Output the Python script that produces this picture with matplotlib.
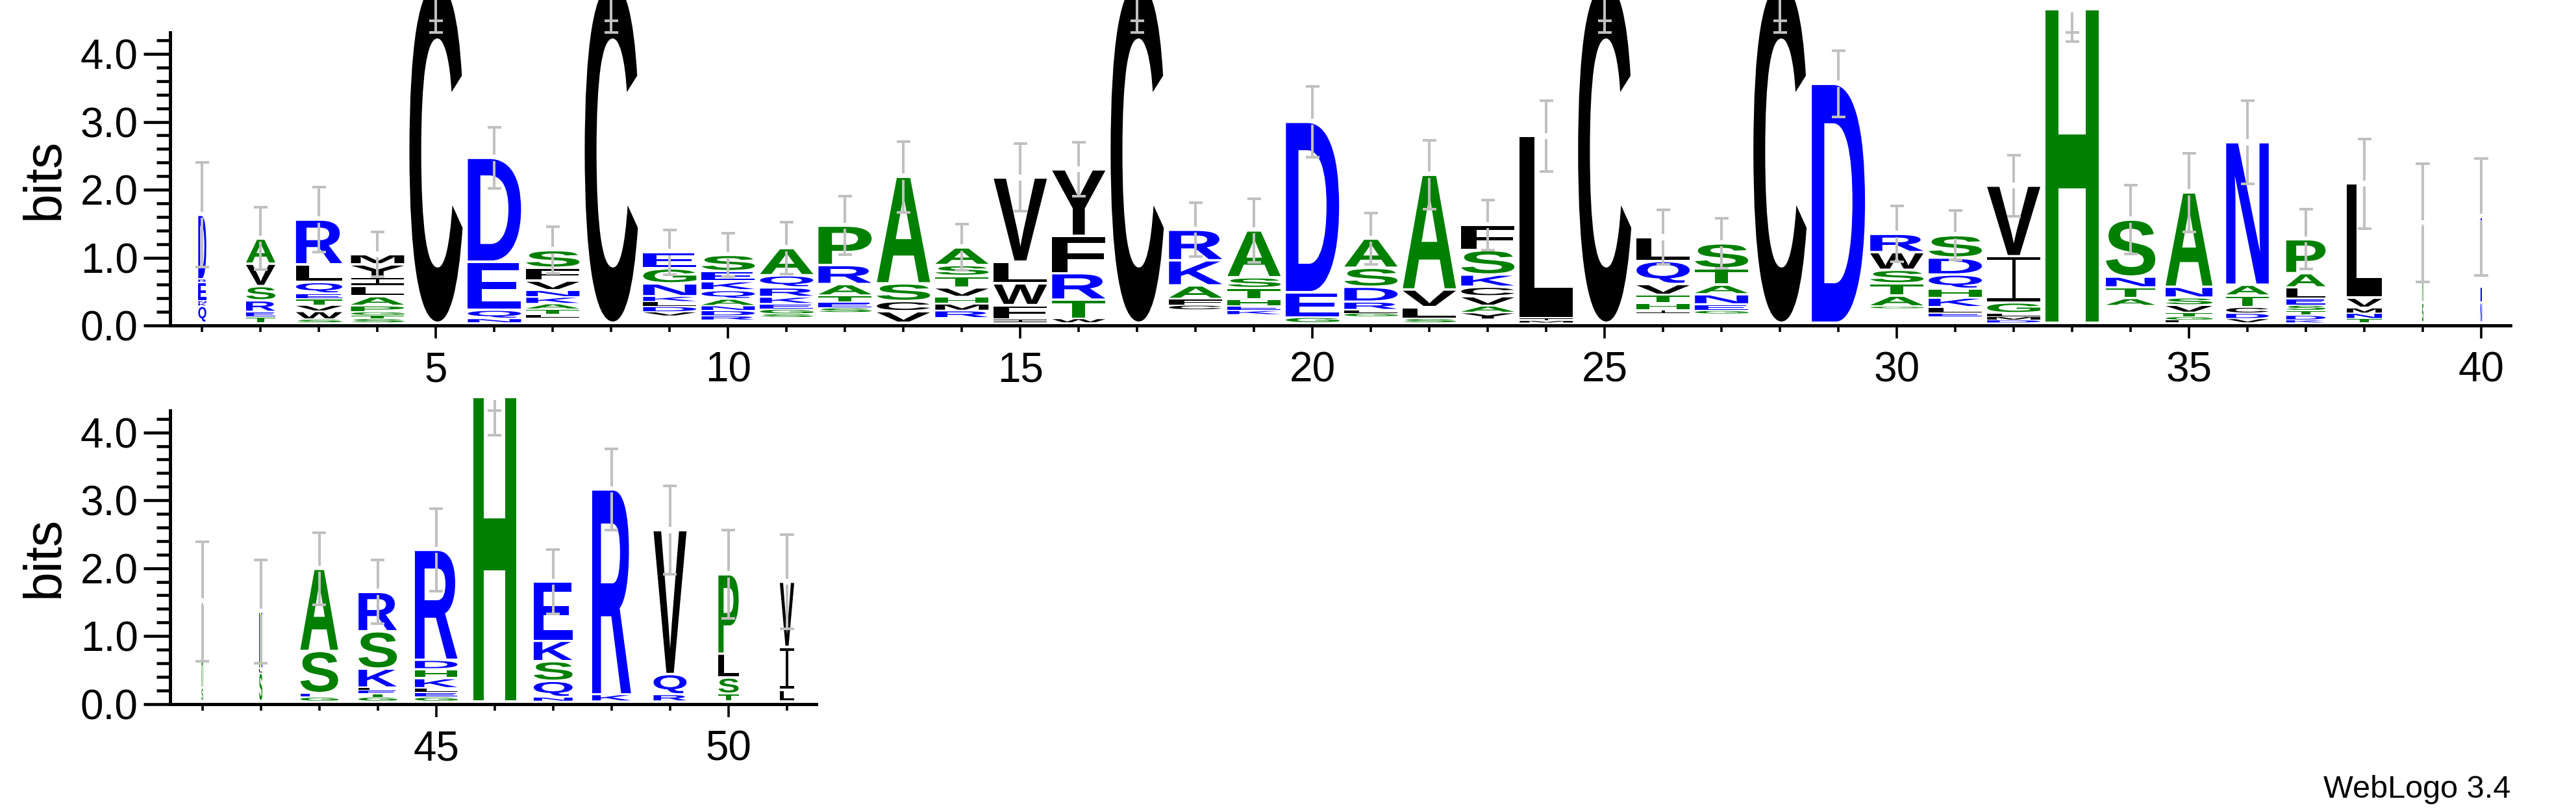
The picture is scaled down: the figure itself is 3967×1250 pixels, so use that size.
import numpy as np
import matplotlib
matplotlib.use("Agg")
from matplotlib import pyplot as plt
from matplotlib.textpath import TextPath
from matplotlib.font_manager import FontProperties
from matplotlib.patches import PathPatch, Rectangle
from matplotlib.transforms import Affine2D
from matplotlib.ticker import FixedLocator, MultipleLocator, FormatStrFormatter

plt.rcParams['font.family'] = ['Liberation Sans', 'DejaVu Sans']

# stacks, bottom -> top, heights in bits
letters = ["QKNERD", "TERSVA", "SWVTEQLR", "STGPALIYM", "C",
           "NQED", "LTAKNVFS", "C", "VDLKNGE", "RDNAQKES",
           "SGEKRQA", "SETARP", "VCSA", "RMHVTSA", "IFWLV",
           "WTRFY", "C", "CFAKR", "KEHTSA", "GED",
           "GLRDSA", "SLVA", "YAVCKSF", "MIL", "C",
           "IHTVQL", "GENATS", "C", "D", "GATSWR",
           "ELKHQDS", "DMLGIV", "H", "ATNS", "LGTVSNA",
           "VDCTAN", "KDTSELAP", "TNMVL", "SA", "NE",
           "SA", "SLK", "GESA", "GTELKSR", "GELKHDR",
           "H", "NQSKE", "KR", "RQV", "TSLP", "LIV"]

heights = [[0.25, 0.04, 0.03, 0.28, 0.04, 0.95],
           [0.09, 0.07, 0.17, 0.21, 0.33, 0.37],
           [0.05, 0.12, 0.09, 0.09, 0.08, 0.17, 0.26, 0.66],
           [0.06, 0.05, 0.05, 0.09, 0.14, 0.15, 0.14, 0.18, 0.15],
           [5.0],
           [0.06, 0.13, 0.71, 1.53],
           [0.05, 0.08, 0.08, 0.10, 0.10, 0.14, 0.19, 0.26],
           [5.0],
           [0.06, 0.08, 0.07, 0.08, 0.19, 0.22, 0.24],
           [0.06, 0.08, 0.07, 0.10, 0.13, 0.13, 0.15, 0.24],
           [0.05, 0.07, 0.08, 0.10, 0.14, 0.18, 0.40],
           [0.07, 0.08, 0.10, 0.17, 0.28, 0.58],
           [0.17, 0.15, 0.26, 1.57],
           [0.11, 0.10, 0.10, 0.14, 0.17, 0.16, 0.26],
           [0.05, 0.21, 0.32, 0.32, 1.24],
           [0.06, 0.28, 0.39, 0.55, 0.98],
           [5.0],
           [0.07, 0.09, 0.20, 0.37, 0.45],
           [0.06, 0.07, 0.09, 0.17, 0.16, 0.69],
           [0.08, 0.37, 2.51],
           [0.05, 0.05, 0.12, 0.22, 0.28, 0.43],
           [0.06, 0.17, 0.26, 1.69],
           [0.10, 0.10, 0.14, 0.14, 0.18, 0.36, 0.37],
           [0.03, 0.04, 2.68],
           [5.0],
           [0.05, 0.10, 0.12, 0.16, 0.34, 0.35],
           [0.05, 0.09, 0.15, 0.14, 0.24, 0.37],
           [5.0],
           [3.52],
           [0.03, 0.16, 0.18, 0.20, 0.26, 0.27],
           [0.05, 0.09, 0.14, 0.13, 0.21, 0.25, 0.33],
           [0.04, 0.05, 0.05, 0.16, 0.68, 1.04],
           [4.62],
           [0.11, 0.16, 0.16, 0.84],
           [0.04, 0.05, 0.06, 0.11, 0.11, 0.16, 1.39],
           [0.06, 0.08, 0.09, 0.17, 0.16, 2.10],
           [0.04, 0.07, 0.07, 0.08, 0.09, 0.17, 0.21, 0.50],
           [0.06, 0.08, 0.08, 0.15, 1.68],
           [0.30, 1.17],
           [0.30, 1.26],
           [0.20, 1.27],
           [0.42, 0.06, 0.84],
           [0.06, 0.06, 0.62, 1.21],
           [0.06, 0.05, 0.05, 0.04, 0.28, 0.55, 0.58],
           [0.06, 0.07, 0.06, 0.15, 0.13, 0.14, 1.62],
           [4.48],
           [0.06, 0.24, 0.29, 0.30, 0.87],
           [0.10, 3.02],
           [0.10, 0.30, 2.12],
           [0.11, 0.24, 0.35, 1.17],
           [0.17, 0.63, 0.96]]

# invisible tiny residues under the visible letters
base = [0, 0, 0, 0, 0, 0, 0.07, 0, 0.10, 0.04,
        0.08, 0.15, 0, 0.07, 0, 0, 0, 0.19, 0.12, 0,
        0.09, 0, 0.05, 0, 0, 0.14, 0.13, 0, 0, 0.21,
        0.09, 0, 0, 0.25, 0, 0, 0, 0, 0, 0,
        0, 0, 0, 0, 0, 0, 0, 0, 0, 0, 0]

# stack width (fraction of non-gap sequences)
widths = [0.15, 0.55, 0.87, 1, 1, 1, 1, 1, 1, 1,
          1, 1, 1, 1, 1, 1, 1, 1, 1, 1,
          1, 1, 1, 1, 1, 1, 1, 1, 1, 1,
          1, 1, 1, 0.93, 0.88, 0.80, 0.74, 0.66, 0.03, 0.03,
          0.03, 0.06, 0.71, 0.72, 0.80, 0.80, 0.73, 0.73, 0.62, 0.38, 0.27]

errs = [0.77, 0.46, 0.48, 0.33, 0.55, 0.45, 0.34, 0.55, 0.33, 0.32,
        0.38, 0.43, 0.52, 0.34, 0.50, 0.40, 0.55, 0.40, 0.47, 0.52,
        0.38, 0.51, 0.37, 0.52, 0.55, 0.40, 0.37, 0.55, 0.49, 0.41,
        0.36, 0.45, 0.48, 0.51, 0.58, 0.61, 0.44, 0.66, 0.87, 0.86,
        0.88, 0.76, 0.53, 0.47, 0.61, 0.56, 0.47, 0.60, 0.65, 0.65, 0.69]

GREEN = '#008000'
BLUE = '#0000ff'
BLACK = '#000000'
GREY = '#c0c0c0'
colour = {}
for c in 'AGSTPH':
    colour[c] = GREEN
for c in 'DENQRK':
    colour[c] = BLUE
for c in 'CVLIMFWY':
    colour[c] = BLACK

YMAX = 4.32
Y0 = 0.04
GAP = 0.045
CAP = 0.117

fp = FontProperties(family='Liberation Sans', weight='bold')
glyphs = {}


def draw_letter(ax, c, x, y, w, h):
    if h <= 0:
        return
    if c == 'I':
        t = min(0.04, h * 0.2)
        s = min(0.055, w)
        for r in [(x - w/2, y, w, t), (x - w/2, y + h - t, w, t), (x - s/2, y, s, h)]:
            ax.add_patch(Rectangle(r[:2], r[2], r[3], fc=colour[c], ec='none', clip_on=False))
        return
    if c not in glyphs:
        glyphs[c] = TextPath((0, 0), c, size=100, prop=fp)
    p = glyphs[c]
    bb = p.get_extents()
    tr = Affine2D().translate(-bb.x0, -bb.y0).scale(w/bb.width, h/bb.height).translate(x - w/2, y)
    ax.add_patch(PathPatch(tr.transform_path(p), fc=colour[c], ec='none', lw=0, clip_on=False))


def draw_errbar(ax, x, top, e):
    kw = dict(color=GREY, lw=2.9, solid_capstyle='butt', clip_on=False, zorder=5)
    lo = top - e
    if top > YMAX:
        ax.plot([x, x], [min(lo, YMAX), top - GAP], **kw)
        caps = [lo, YMAX]
    else:
        ax.plot([x, x], [lo, top - GAP], **kw)
        ax.plot([x, x], [top + GAP, top + e], **kw)
        caps = [lo, top + e]
    for cy in caps:
        ax.plot([x - CAP, x + CAP], [cy, cy], **kw)


def draw_row(ax, first, last):
    for i in range(first, last + 1):
        k = i - 1
        w = widths[k] * 0.91
        y = Y0 + base[k]
        for c, hh in zip(letters[k], heights[k]):
            pad = min(0.018, 0.12 * hh)
            draw_letter(ax, c, i, y + pad, w, hh - 2*pad)
            y += hh
        draw_errbar(ax, i, y, errs[k])


def setup(ax, lo, hi, majors):
    ax.set_xlim(lo - 0.55, hi + 0.5)
    ax.set_ylim(0, YMAX)
    ax.spines[['top', 'right']].set_visible(False)
    ax.spines[['left', 'bottom']].set_linewidth(3.6)
    ax.xaxis.set_major_locator(FixedLocator(majors))
    ax.xaxis.set_minor_locator(FixedLocator(list(range(lo, hi + 1))))
    ax.yaxis.set_major_locator(FixedLocator([0, 1, 2, 3, 4]))
    ax.yaxis.set_minor_locator(MultipleLocator(0.2))
    ax.yaxis.set_major_formatter(FormatStrFormatter('%.1f'))
    ax.tick_params(axis='y', which='major', length=29.5, width=3.3, labelsize=46, pad=6)
    ax.tick_params(axis='y', which='minor', length=15, width=3.3)
    ax.tick_params(axis='x', which='major', length=14.5, width=2.6, labelsize=46, pad=14)
    ax.tick_params(axis='x', which='minor', length=7, width=2.6)


fig = plt.figure(figsize=(39.67, 12.5), dpi=100)
ax_top = fig.add_axes([262/3967, 749/1250, 3604/3967, 451.4/1250])
ax_bot = fig.add_axes([262/3967, 166.4/1250, 995/3967, 451.4/1250])

setup(ax_top, 1, 40, [5, 10, 15, 20, 25, 30, 35, 40])
setup(ax_bot, 41, 51, [45, 50])
draw_row(ax_top, 1, 40)
draw_row(ax_bot, 41, 51)

fig.text(69/3967, 974.5/1250, 'bits', rotation=90, ha='center', va='center', fontsize=58)
fig.text(69/3967, 393/1250, 'bits', rotation=90, ha='center', va='center', fontsize=58)
fig.text(3866/3967, 35/1250, 'WebLogo 3.4', ha='right', va='center', fontsize=35)

fig.savefig('out.png', dpi=100)
